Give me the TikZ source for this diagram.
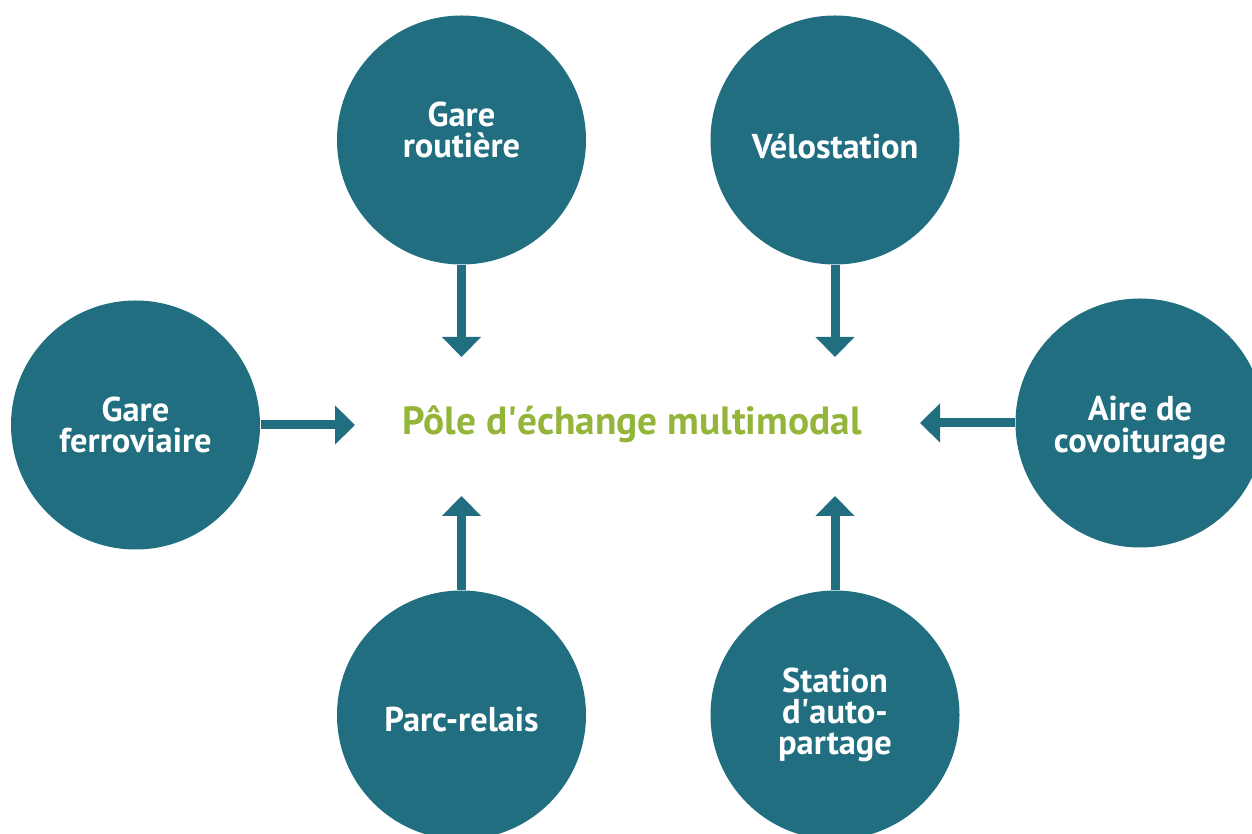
\documentclass[tikz,border=0pt]{standalone}
\usepackage{fontspec}
\setmainfont{PT Sans}
\usepackage{tikz}
\usetikzlibrary{arrows.meta, positioning}
\definecolor{myteal}{RGB}{33,110,128}
\definecolor{mygreen}{RGB}{147,181,58}
\newcommand{\apos}{\textquotesingle}
\tikzset{
  hub/.style={circle, fill=myteal, minimum size=2.49cm, inner sep=0pt},
  lbl/.style={text=white, align=center, inner sep=0pt,
    font=\bfseries\fontsize{9.8}{8.9}\selectfont},
  arrow/.style={-{Triangle[length=0.2cm, width=0.38cm]}, line width=0.09cm, color=myteal}
}

\begin{document}
\begin{tikzpicture}
  \useasboundingbox (0,0) rectangle (12.52,8.34);
  \clip (0,0) rectangle (12.52,8.34);
  \node[font=\bfseries\fontsize{11.2}{11.2}\selectfont, text=mygreen] (pole) at (6.32,4.10) {Pôle d\apos échange multimodal};
  \node[hub, label={[lbl, yshift=0.1cm]center:Gare\\routière}] (gr) at (4.615,6.94) {};
  \node[hub, label={[lbl, yshift=-0.06cm]center:Vélostation}] (velo) at (8.35,6.94) {};
  \node[hub, label={[lbl]center:Gare\\ferroviaire}] (gf) at (1.355,4.09) {};
  \node[hub, label={[lbl, yshift=-0.05cm]center:Aire de\\covoiturage}] (aire) at (11.40,4.11) {};
  \node[hub, label={[lbl, yshift=-0.04cm]center:Parc-relais}] (parc) at (4.615,1.19) {};
  \node[hub, label={[lbl]center:Station\\d\apos auto-\\partage}] (autop) at (8.35,1.19) {};
  % arrow tips, short of the title
  \coordinate (t1) at (4.615,4.77);
  \coordinate (t2) at (8.35,4.77);
  \coordinate (t3) at (3.55,4.09);
  \coordinate (t4) at (9.20,4.11);
  \coordinate (t5) at (4.615,3.38);
  \coordinate (t6) at (8.35,3.38);
  \draw[arrow] (gr.south) -- (t1);
  \draw[arrow] (velo.south) -- (t2);
  \draw[arrow] (gf.east) -- (t3);
  \draw[arrow] (aire.west) -- (t4);
  \draw[arrow] (parc.north) -- (t5);
  \draw[arrow] (autop.north) -- (t6);
\end{tikzpicture}
\end{document}
